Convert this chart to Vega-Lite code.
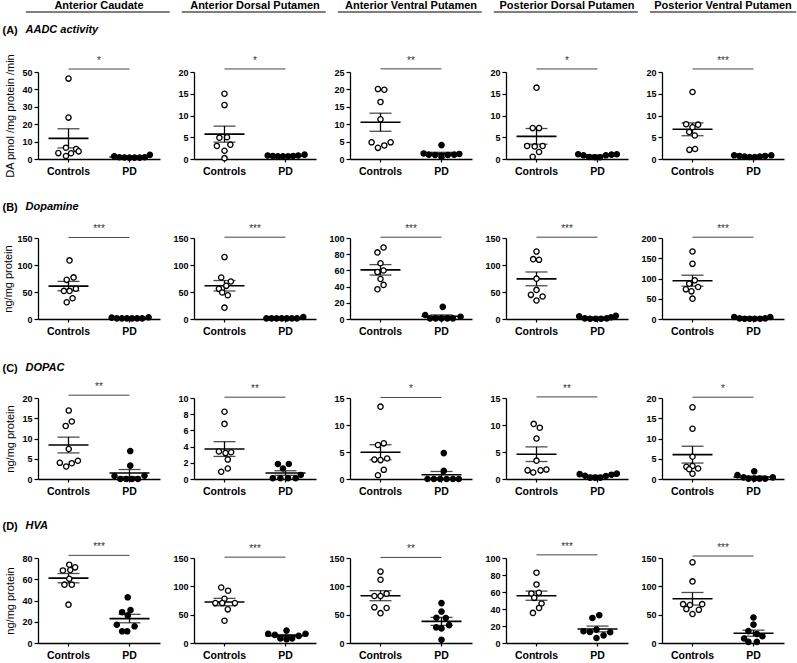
{
"$schema":"https://vega.github.io/schema/vega-lite/v6.json",
"padding":{"left":2,"top":0,"right":2,"bottom":5},
"datasets":{"d":[
{"panel":"A1","kind":"pt","group":"Controls","value":46.2,"dx":0},{"panel":"A1","kind":"pt","group":"Controls","value":23.8,"dx":0},{"panel":"A1","kind":"pt","group":"Controls","value":6.5,"dx":-1},{"panel":"A1","kind":"pt","group":"Controls","value":5.7,"dx":3},{"panel":"A1","kind":"pt","group":"Controls","value":4.4,"dx":4},{"panel":"A1","kind":"pt","group":"Controls","value":3.4,"dx":-4},{"panel":"A1","kind":"pt","group":"Controls","value":3.3,"dx":1},{"panel":"A1","kind":"pt","group":"Controls","value":1.7,"dx":-1},
{"panel":"A1","kind":"pt","group":"PD","value":1.6,"dx":-6},{"panel":"A1","kind":"pt","group":"PD","value":1.0,"dx":-4},{"panel":"A1","kind":"pt","group":"PD","value":0.9,"dx":-2},{"panel":"A1","kind":"pt","group":"PD","value":0.8,"dx":0},{"panel":"A1","kind":"pt","group":"PD","value":0.8,"dx":2},{"panel":"A1","kind":"pt","group":"PD","value":0.8,"dx":4},{"panel":"A1","kind":"pt","group":"PD","value":1.0,"dx":6},{"panel":"A1","kind":"pt","group":"PD","value":2.4,"dx":8},
{"panel":"A2","kind":"pt","group":"Controls","value":15.0,"dx":0},{"panel":"A2","kind":"pt","group":"Controls","value":12.4,"dx":0},{"panel":"A2","kind":"pt","group":"Controls","value":4.9,"dx":-2},{"panel":"A2","kind":"pt","group":"Controls","value":5.0,"dx":1},{"panel":"A2","kind":"pt","group":"Controls","value":3.0,"dx":-3},{"panel":"A2","kind":"pt","group":"Controls","value":3.3,"dx":2.3},{"panel":"A2","kind":"pt","group":"Controls","value":1.9,"dx":0},{"panel":"A2","kind":"pt","group":"Controls","value":0.2,"dx":0},
{"panel":"A2","kind":"pt","group":"PD","value":0.8,"dx":-7},{"panel":"A2","kind":"pt","group":"PD","value":0.7,"dx":-5},{"panel":"A2","kind":"pt","group":"PD","value":0.6,"dx":-3},{"panel":"A2","kind":"pt","group":"PD","value":0.6,"dx":-1},{"panel":"A2","kind":"pt","group":"PD","value":0.6,"dx":1},{"panel":"A2","kind":"pt","group":"PD","value":0.7,"dx":3},{"panel":"A2","kind":"pt","group":"PD","value":0.8,"dx":5},{"panel":"A2","kind":"pt","group":"PD","value":1.0,"dx":7.5},
{"panel":"A3","kind":"pt","group":"Controls","value":20.1,"dx":-1},{"panel":"A3","kind":"pt","group":"Controls","value":19.9,"dx":1.5},{"panel":"A3","kind":"pt","group":"Controls","value":16.4,"dx":0},{"panel":"A3","kind":"pt","group":"Controls","value":11.4,"dx":0},{"panel":"A3","kind":"pt","group":"Controls","value":4.8,"dx":-3.5},{"panel":"A3","kind":"pt","group":"Controls","value":3.2,"dx":-1},{"panel":"A3","kind":"pt","group":"Controls","value":3.9,"dx":1.5},{"panel":"A3","kind":"pt","group":"Controls","value":4.8,"dx":4},
{"panel":"A3","kind":"pt","group":"PD","value":1.6,"dx":-7},{"panel":"A3","kind":"pt","group":"PD","value":1.25,"dx":-5},{"panel":"A3","kind":"pt","group":"PD","value":1.15,"dx":-2.5},{"panel":"A3","kind":"pt","group":"PD","value":0.6,"dx":0},{"panel":"A3","kind":"pt","group":"PD","value":1.15,"dx":2.5},{"panel":"A3","kind":"pt","group":"PD","value":1.25,"dx":5},{"panel":"A3","kind":"pt","group":"PD","value":1.45,"dx":7},{"panel":"A3","kind":"pt","group":"PD","value":4.0,"dx":0},
{"panel":"A4","kind":"pt","group":"Controls","value":16.4,"dx":0},{"panel":"A4","kind":"pt","group":"Controls","value":7.1,"dx":-1.5},{"panel":"A4","kind":"pt","group":"Controls","value":7.1,"dx":1},{"panel":"A4","kind":"pt","group":"Controls","value":3.0,"dx":-3.7},{"panel":"A4","kind":"pt","group":"Controls","value":2.9,"dx":-0.7},{"panel":"A4","kind":"pt","group":"Controls","value":3.0,"dx":2.4},{"panel":"A4","kind":"pt","group":"Controls","value":1.6,"dx":1},{"panel":"A4","kind":"pt","group":"Controls","value":0.5,"dx":-1.5},
{"panel":"A4","kind":"pt","group":"PD","value":1.1,"dx":-7.6},{"panel":"A4","kind":"pt","group":"PD","value":0.85,"dx":-5.5},{"panel":"A4","kind":"pt","group":"PD","value":0.45,"dx":-3.3},{"panel":"A4","kind":"pt","group":"PD","value":0.4,"dx":-1},{"panel":"A4","kind":"pt","group":"PD","value":0.4,"dx":1},{"panel":"A4","kind":"pt","group":"PD","value":0.85,"dx":3.3},{"panel":"A4","kind":"pt","group":"PD","value":1.0,"dx":5.5},{"panel":"A4","kind":"pt","group":"PD","value":1.1,"dx":7.6},
{"panel":"A5","kind":"pt","group":"Controls","value":15.4,"dx":0},{"panel":"A5","kind":"pt","group":"Controls","value":8.0,"dx":-2.5},{"panel":"A5","kind":"pt","group":"Controls","value":7.9,"dx":2.2},{"panel":"A5","kind":"pt","group":"Controls","value":7.3,"dx":0},{"panel":"A5","kind":"pt","group":"Controls","value":6.2,"dx":-1.3},{"panel":"A5","kind":"pt","group":"Controls","value":5.4,"dx":0.9},{"panel":"A5","kind":"pt","group":"Controls","value":2.1,"dx":-1.2},{"panel":"A5","kind":"pt","group":"Controls","value":2.3,"dx":1},
{"panel":"A5","kind":"pt","group":"PD","value":0.85,"dx":-7.6},{"panel":"A5","kind":"pt","group":"PD","value":0.7,"dx":-5.5},{"panel":"A5","kind":"pt","group":"PD","value":0.55,"dx":-3.5},{"panel":"A5","kind":"pt","group":"PD","value":0.45,"dx":-1.5},{"panel":"A5","kind":"pt","group":"PD","value":0.45,"dx":0.5},{"panel":"A5","kind":"pt","group":"PD","value":0.55,"dx":2.5},{"panel":"A5","kind":"pt","group":"PD","value":0.7,"dx":4.6},{"panel":"A5","kind":"pt","group":"PD","value":0.85,"dx":7},
{"panel":"B1","kind":"pt","group":"Controls","value":108.5,"dx":0.4},{"panel":"B1","kind":"pt","group":"Controls","value":72.5,"dx":-0.7},{"panel":"B1","kind":"pt","group":"Controls","value":77,"dx":2},{"panel":"B1","kind":"pt","group":"Controls","value":52,"dx":-1.8},{"panel":"B1","kind":"pt","group":"Controls","value":52,"dx":0.4},{"panel":"B1","kind":"pt","group":"Controls","value":56,"dx":2.9},{"panel":"B1","kind":"pt","group":"Controls","value":38.4,"dx":1.6},{"panel":"B1","kind":"pt","group":"Controls","value":31,"dx":-0.7},
{"panel":"B1","kind":"pt","group":"PD","value":2.5,"dx":-7},{"panel":"B1","kind":"pt","group":"PD","value":1.2,"dx":-5},{"panel":"B1","kind":"pt","group":"PD","value":1.2,"dx":-3},{"panel":"B1","kind":"pt","group":"PD","value":1.2,"dx":-1},{"panel":"B1","kind":"pt","group":"PD","value":1.2,"dx":1},{"panel":"B1","kind":"pt","group":"PD","value":1.2,"dx":3},{"panel":"B1","kind":"pt","group":"PD","value":1.2,"dx":5},{"panel":"B1","kind":"pt","group":"PD","value":3.1,"dx":7.5},
{"panel":"B2","kind":"pt","group":"Controls","value":114.7,"dx":0},{"panel":"B2","kind":"pt","group":"Controls","value":76.9,"dx":-1.3},{"panel":"B2","kind":"pt","group":"Controls","value":69.4,"dx":2.5},{"panel":"B2","kind":"pt","group":"Controls","value":61.4,"dx":0.7},{"panel":"B2","kind":"pt","group":"Controls","value":55.8,"dx":-2.2},{"panel":"B2","kind":"pt","group":"Controls","value":49,"dx":-0.9},{"panel":"B2","kind":"pt","group":"Controls","value":44,"dx":1.3},{"panel":"B2","kind":"pt","group":"Controls","value":21,"dx":0},
{"panel":"B2","kind":"pt","group":"PD","value":1.2,"dx":-7.5},{"panel":"B2","kind":"pt","group":"PD","value":1.2,"dx":-5.5},{"panel":"B2","kind":"pt","group":"PD","value":1.2,"dx":-3.5},{"panel":"B2","kind":"pt","group":"PD","value":1.2,"dx":-1.5},{"panel":"B2","kind":"pt","group":"PD","value":1.2,"dx":0.5},{"panel":"B2","kind":"pt","group":"PD","value":1.2,"dx":2.5},{"panel":"B2","kind":"pt","group":"PD","value":1.2,"dx":4.5},{"panel":"B2","kind":"pt","group":"PD","value":3.7,"dx":7},
{"panel":"B3","kind":"pt","group":"Controls","value":88.3,"dx":1.2},{"panel":"B3","kind":"pt","group":"Controls","value":82.2,"dx":-1.2},{"panel":"B3","kind":"pt","group":"Controls","value":68.8,"dx":0},{"panel":"B3","kind":"pt","group":"Controls","value":57.9,"dx":-1.2},{"panel":"B3","kind":"pt","group":"Controls","value":59.9,"dx":1.2},{"panel":"B3","kind":"pt","group":"Controls","value":49.4,"dx":0},{"panel":"B3","kind":"pt","group":"Controls","value":42.1,"dx":1.2},{"panel":"B3","kind":"pt","group":"Controls","value":36.8,"dx":-1.2},
{"panel":"B3","kind":"pt","group":"PD","value":4.9,"dx":-6.4},{"panel":"B3","kind":"pt","group":"PD","value":0.8,"dx":-4.5},{"panel":"B3","kind":"pt","group":"PD","value":0.8,"dx":-2.3},{"panel":"B3","kind":"pt","group":"PD","value":0.8,"dx":0},{"panel":"B3","kind":"pt","group":"PD","value":15,"dx":0.5},{"panel":"B3","kind":"pt","group":"PD","value":0.8,"dx":2.3},{"panel":"B3","kind":"pt","group":"PD","value":0.8,"dx":4.5},{"panel":"B3","kind":"pt","group":"PD","value":2.8,"dx":7.5},
{"panel":"B4","kind":"pt","group":"Controls","value":124.9,"dx":0},{"panel":"B4","kind":"pt","group":"Controls","value":110.8,"dx":-1.3},{"panel":"B4","kind":"pt","group":"Controls","value":109.6,"dx":1},{"panel":"B4","kind":"pt","group":"Controls","value":74.7,"dx":0},{"panel":"B4","kind":"pt","group":"Controls","value":53.9,"dx":0},{"panel":"B4","kind":"pt","group":"Controls","value":44.7,"dx":-2.2},{"panel":"B4","kind":"pt","group":"Controls","value":41.6,"dx":2.4},{"panel":"B4","kind":"pt","group":"Controls","value":34.3,"dx":0},
{"panel":"B4","kind":"pt","group":"PD","value":4.9,"dx":-7.2},{"panel":"B4","kind":"pt","group":"PD","value":1.2,"dx":-5},{"panel":"B4","kind":"pt","group":"PD","value":0.6,"dx":-2.9},{"panel":"B4","kind":"pt","group":"PD","value":0.6,"dx":-0.7},{"panel":"B4","kind":"pt","group":"PD","value":0.6,"dx":1.4},{"panel":"B4","kind":"pt","group":"PD","value":1.2,"dx":3.6},{"panel":"B4","kind":"pt","group":"PD","value":3.1,"dx":5.3},{"panel":"B4","kind":"pt","group":"PD","value":6.1,"dx":7.2},
{"panel":"B5","kind":"pt","group":"Controls","value":166.7,"dx":0},{"panel":"B5","kind":"pt","group":"Controls","value":136.2,"dx":0},{"panel":"B5","kind":"pt","group":"Controls","value":95.5,"dx":0.9},{"panel":"B5","kind":"pt","group":"Controls","value":87.2,"dx":-1.3},{"panel":"B5","kind":"pt","group":"Controls","value":73.3,"dx":-2.6},{"panel":"B5","kind":"pt","group":"Controls","value":68.3,"dx":-0.4},{"panel":"B5","kind":"pt","group":"Controls","value":79,"dx":2.2},{"panel":"B5","kind":"pt","group":"Controls","value":50.2,"dx":0},
{"panel":"B5","kind":"pt","group":"PD","value":4.9,"dx":-7.6},{"panel":"B5","kind":"pt","group":"PD","value":1.6,"dx":-5.5},{"panel":"B5","kind":"pt","group":"PD","value":0.8,"dx":-3.5},{"panel":"B5","kind":"pt","group":"PD","value":0.8,"dx":-1.5},{"panel":"B5","kind":"pt","group":"PD","value":0.8,"dx":0.5},{"panel":"B5","kind":"pt","group":"PD","value":0.8,"dx":2.6},{"panel":"B5","kind":"pt","group":"PD","value":1.6,"dx":4.6},{"panel":"B5","kind":"pt","group":"PD","value":4.9,"dx":6.6},
{"panel":"C1","kind":"pt","group":"Controls","value":16.9,"dx":0.1},{"panel":"C1","kind":"pt","group":"Controls","value":14.2,"dx":1.3},{"panel":"C1","kind":"pt","group":"Controls","value":13.1,"dx":-1.1},{"panel":"C1","kind":"pt","group":"Controls","value":7.4,"dx":0.1},{"panel":"C1","kind":"pt","group":"Controls","value":4.0,"dx":-3.4},{"panel":"C1","kind":"pt","group":"Controls","value":3.1,"dx":-0.9},{"panel":"C1","kind":"pt","group":"Controls","value":3.9,"dx":1.3},{"panel":"C1","kind":"pt","group":"Controls","value":4.5,"dx":3.7},
{"panel":"C1","kind":"pt","group":"PD","value":6.9,"dx":0.3},{"panel":"C1","kind":"pt","group":"PD","value":3.3,"dx":0.3},{"panel":"C1","kind":"pt","group":"PD","value":0.75,"dx":-5.9},{"panel":"C1","kind":"pt","group":"PD","value":0,"dx":-3.6},{"panel":"C1","kind":"pt","group":"PD","value":0,"dx":-1.3},{"panel":"C1","kind":"pt","group":"PD","value":0,"dx":1},{"panel":"C1","kind":"pt","group":"PD","value":0,"dx":3.3},{"panel":"C1","kind":"pt","group":"PD","value":0.8,"dx":5.9},
{"panel":"C2","kind":"pt","group":"Controls","value":8.3,"dx":0},{"panel":"C2","kind":"pt","group":"Controls","value":6.8,"dx":0},{"panel":"C2","kind":"pt","group":"Controls","value":3.4,"dx":-2.2},{"panel":"C2","kind":"pt","group":"Controls","value":3.2,"dx":0.4},{"panel":"C2","kind":"pt","group":"Controls","value":3.3,"dx":2.6},{"panel":"C2","kind":"pt","group":"Controls","value":2.4,"dx":1.3},{"panel":"C2","kind":"pt","group":"Controls","value":0.9,"dx":-1.3},{"panel":"C2","kind":"pt","group":"Controls","value":1.3,"dx":1.3},
{"panel":"C2","kind":"pt","group":"PD","value":1.85,"dx":-3},{"panel":"C2","kind":"pt","group":"PD","value":1.85,"dx":1.3},{"panel":"C2","kind":"pt","group":"PD","value":1.3,"dx":-1},{"panel":"C2","kind":"pt","group":"PD","value":0.1,"dx":-5},{"panel":"C2","kind":"pt","group":"PD","value":0.1,"dx":-2},{"panel":"C2","kind":"pt","group":"PD","value":0.1,"dx":1},{"panel":"C2","kind":"pt","group":"PD","value":0.1,"dx":4},{"panel":"C2","kind":"pt","group":"PD","value":0.5,"dx":6},
{"panel":"C3","kind":"pt","group":"Controls","value":13.4,"dx":0},{"panel":"C3","kind":"pt","group":"Controls","value":6.3,"dx":-1},{"panel":"C3","kind":"pt","group":"Controls","value":6.6,"dx":1.3},{"panel":"C3","kind":"pt","group":"Controls","value":3.6,"dx":-2.4},{"panel":"C3","kind":"pt","group":"Controls","value":3.5,"dx":0},{"panel":"C3","kind":"pt","group":"Controls","value":3.8,"dx":2.6},{"panel":"C3","kind":"pt","group":"Controls","value":1.7,"dx":1.3},{"panel":"C3","kind":"pt","group":"Controls","value":0.7,"dx":-1},
{"panel":"C3","kind":"pt","group":"PD","value":4.8,"dx":0.9},{"panel":"C3","kind":"pt","group":"PD","value":1.5,"dx":0.9},{"panel":"C3","kind":"pt","group":"PD","value":0,"dx":-5.5},{"panel":"C3","kind":"pt","group":"PD","value":0,"dx":-3},{"panel":"C3","kind":"pt","group":"PD","value":0,"dx":-0.5},{"panel":"C3","kind":"pt","group":"PD","value":0,"dx":2},{"panel":"C3","kind":"pt","group":"PD","value":0,"dx":4.5},{"panel":"C3","kind":"pt","group":"PD","value":0,"dx":6.8},
{"panel":"C4","kind":"pt","group":"Controls","value":10.2,"dx":-1.1},{"panel":"C4","kind":"pt","group":"Controls","value":9.5,"dx":1.3},{"panel":"C4","kind":"pt","group":"Controls","value":7.5,"dx":0},{"panel":"C4","kind":"pt","group":"Controls","value":3.4,"dx":0},{"panel":"C4","kind":"pt","group":"Controls","value":1.6,"dx":-3.5},{"panel":"C4","kind":"pt","group":"Controls","value":1.2,"dx":-1.3},{"panel":"C4","kind":"pt","group":"Controls","value":1.6,"dx":1.6},{"panel":"C4","kind":"pt","group":"Controls","value":1.75,"dx":3.9},
{"panel":"C4","kind":"pt","group":"PD","value":0.9,"dx":-7},{"panel":"C4","kind":"pt","group":"PD","value":0.6,"dx":-4.9},{"panel":"C4","kind":"pt","group":"PD","value":0.25,"dx":-2.9},{"panel":"C4","kind":"pt","group":"PD","value":0.25,"dx":-0.9},{"panel":"C4","kind":"pt","group":"PD","value":0.25,"dx":1.1},{"panel":"C4","kind":"pt","group":"PD","value":0.55,"dx":3.3},{"panel":"C4","kind":"pt","group":"PD","value":0.8,"dx":5.5},{"panel":"C4","kind":"pt","group":"PD","value":1.0,"dx":7.6},
{"panel":"C5","kind":"pt","group":"Controls","value":17.7,"dx":0},{"panel":"C5","kind":"pt","group":"Controls","value":12.4,"dx":0},{"panel":"C5","kind":"pt","group":"Controls","value":5.5,"dx":0},{"panel":"C5","kind":"pt","group":"Controls","value":3.0,"dx":-2.4},{"panel":"C5","kind":"pt","group":"Controls","value":3.2,"dx":0},{"panel":"C5","kind":"pt","group":"Controls","value":2.6,"dx":2.2},{"panel":"C5","kind":"pt","group":"Controls","value":2.4,"dx":-1.3},{"panel":"C5","kind":"pt","group":"Controls","value":1.3,"dx":0},
{"panel":"C5","kind":"pt","group":"PD","value":0.95,"dx":-6.3},{"panel":"C5","kind":"pt","group":"PD","value":0.4,"dx":-3.9},{"panel":"C5","kind":"pt","group":"PD","value":0.1,"dx":-2},{"panel":"C5","kind":"pt","group":"PD","value":1.9,"dx":0.3},{"panel":"C5","kind":"pt","group":"PD","value":0.1,"dx":0.3},{"panel":"C5","kind":"pt","group":"PD","value":0.1,"dx":2.4},{"panel":"C5","kind":"pt","group":"PD","value":0.1,"dx":4.6},{"panel":"C5","kind":"pt","group":"PD","value":0.4,"dx":7.6},
{"panel":"D1","kind":"pt","group":"Controls","value":73.7,"dx":0.3},{"panel":"D1","kind":"pt","group":"Controls","value":68.3,"dx":-2.2},{"panel":"D1","kind":"pt","group":"Controls","value":68.7,"dx":0.7},{"panel":"D1","kind":"pt","group":"Controls","value":71.2,"dx":2.6},{"panel":"D1","kind":"pt","group":"Controls","value":60.5,"dx":0.3},{"panel":"D1","kind":"pt","group":"Controls","value":54.9,"dx":-1.6},{"panel":"D1","kind":"pt","group":"Controls","value":54.9,"dx":1.3},{"panel":"D1","kind":"pt","group":"Controls","value":36.1,"dx":0},
{"panel":"D1","kind":"pt","group":"PD","value":43,"dx":-0.7},{"panel":"D1","kind":"pt","group":"PD","value":29,"dx":-2.9},{"panel":"D1","kind":"pt","group":"PD","value":31,"dx":0.4},{"panel":"D1","kind":"pt","group":"PD","value":26,"dx":-0.7},{"panel":"D1","kind":"pt","group":"PD","value":17.2,"dx":-5},{"panel":"D1","kind":"pt","group":"PD","value":15.7,"dx":2},{"panel":"D1","kind":"pt","group":"PD","value":11,"dx":-2.9},{"panel":"D1","kind":"pt","group":"PD","value":11,"dx":-0.9},
{"panel":"D2","kind":"pt","group":"Controls","value":98,"dx":-1.3},{"panel":"D2","kind":"pt","group":"Controls","value":92.3,"dx":1.4},{"panel":"D2","kind":"pt","group":"Controls","value":77.9,"dx":0},{"panel":"D2","kind":"pt","group":"Controls","value":70.4,"dx":-3.6},{"panel":"D2","kind":"pt","group":"Controls","value":70.4,"dx":-0.9},{"panel":"D2","kind":"pt","group":"Controls","value":70.4,"dx":4.1},{"panel":"D2","kind":"pt","group":"Controls","value":59.4,"dx":1.3},{"panel":"D2","kind":"pt","group":"Controls","value":39.2,"dx":0},
{"panel":"D2","kind":"pt","group":"PD","value":16.2,"dx":-6.8},{"panel":"D2","kind":"pt","group":"PD","value":14.4,"dx":-4.2},{"panel":"D2","kind":"pt","group":"PD","value":21.9,"dx":0.4},{"panel":"D2","kind":"pt","group":"PD","value":8.0,"dx":-2},{"panel":"D2","kind":"pt","group":"PD","value":6.5,"dx":0.4},{"panel":"D2","kind":"pt","group":"PD","value":8.0,"dx":2.6},{"panel":"D2","kind":"pt","group":"PD","value":12.5,"dx":5.2},{"panel":"D2","kind":"pt","group":"PD","value":16.2,"dx":7.9},
{"panel":"D3","kind":"pt","group":"Controls","value":126,"dx":0},{"panel":"D3","kind":"pt","group":"Controls","value":111.6,"dx":0},{"panel":"D3","kind":"pt","group":"Controls","value":83,"dx":-2.4},{"panel":"D3","kind":"pt","group":"Controls","value":83,"dx":0},{"panel":"D3","kind":"pt","group":"Controls","value":87,"dx":2.4},{"panel":"D3","kind":"pt","group":"Controls","value":63,"dx":-2.4},{"panel":"D3","kind":"pt","group":"Controls","value":61.8,"dx":2.4},{"panel":"D3","kind":"pt","group":"Controls","value":52.7,"dx":0},
{"panel":"D3","kind":"pt","group":"PD","value":70.4,"dx":0},{"panel":"D3","kind":"pt","group":"PD","value":55.5,"dx":0},{"panel":"D3","kind":"pt","group":"PD","value":44.6,"dx":-2},{"panel":"D3","kind":"pt","group":"PD","value":44.1,"dx":1.7},{"panel":"D3","kind":"pt","group":"PD","value":27.5,"dx":-2.1},{"panel":"D3","kind":"pt","group":"PD","value":25.8,"dx":0},{"panel":"D3","kind":"pt","group":"PD","value":31.5,"dx":3},{"panel":"D3","kind":"pt","group":"PD","value":5.7,"dx":0},
{"panel":"D4","kind":"pt","group":"Controls","value":82.7,"dx":0},{"panel":"D4","kind":"pt","group":"Controls","value":68.9,"dx":0},{"panel":"D4","kind":"pt","group":"Controls","value":58.3,"dx":-2},{"panel":"D4","kind":"pt","group":"Controls","value":59,"dx":0.9},{"panel":"D4","kind":"pt","group":"Controls","value":53.1,"dx":-0.9},{"panel":"D4","kind":"pt","group":"Controls","value":46.5,"dx":2},{"panel":"D4","kind":"pt","group":"Controls","value":41.3,"dx":1},{"panel":"D4","kind":"pt","group":"Controls","value":35.4,"dx":-1.4},
{"panel":"D4","kind":"pt","group":"PD","value":29.5,"dx":-2},{"panel":"D4","kind":"pt","group":"PD","value":32.7,"dx":0.7},{"panel":"D4","kind":"pt","group":"PD","value":13.8,"dx":-5.5},{"panel":"D4","kind":"pt","group":"PD","value":13,"dx":-3},{"panel":"D4","kind":"pt","group":"PD","value":15.7,"dx":-0.4},{"panel":"D4","kind":"pt","group":"PD","value":9,"dx":2.4},{"panel":"D4","kind":"pt","group":"PD","value":12.6,"dx":5},{"panel":"D4","kind":"pt","group":"PD","value":5.9,"dx":-0.4},
{"panel":"D5","kind":"pt","group":"Controls","value":142.4,"dx":0},{"panel":"D5","kind":"pt","group":"Controls","value":108.7,"dx":0},{"panel":"D5","kind":"pt","group":"Controls","value":68.6,"dx":-3.7},{"panel":"D5","kind":"pt","group":"Controls","value":67,"dx":-1},{"panel":"D5","kind":"pt","group":"Controls","value":68.6,"dx":3.8},{"panel":"D5","kind":"pt","group":"Controls","value":59.9,"dx":-2.4},{"panel":"D5","kind":"pt","group":"Controls","value":58.5,"dx":2.5},{"panel":"D5","kind":"pt","group":"Controls","value":51.2,"dx":0},
{"panel":"D5","kind":"pt","group":"PD","value":45,"dx":0},{"panel":"D5","kind":"pt","group":"PD","value":32.5,"dx":0},{"panel":"D5","kind":"pt","group":"PD","value":21,"dx":-2},{"panel":"D5","kind":"pt","group":"PD","value":16,"dx":1.3},{"panel":"D5","kind":"pt","group":"PD","value":8,"dx":-3.7},{"panel":"D5","kind":"pt","group":"PD","value":12,"dx":3.5},{"panel":"D5","kind":"pt","group":"PD","value":2,"dx":-2},{"panel":"D5","kind":"pt","group":"PD","value":2,"dx":1.3},
{"panel":"A1","kind":"sig","value":51.7,"stars":"*"},{"panel":"A2","kind":"sig","value":20.7,"stars":"*"},{"panel":"A3","kind":"sig","value":25.9,"stars":"**"},{"panel":"A4","kind":"sig","value":20.7,"stars":"*"},{"panel":"A5","kind":"sig","value":20.7,"stars":"***"},
{"panel":"B1","kind":"sig","value":151,"stars":"***"},{"panel":"B2","kind":"sig","value":151.5,"stars":"***"},{"panel":"B3","kind":"sig","value":101,"stars":"***"},{"panel":"B4","kind":"sig","value":151.5,"stars":"***"},{"panel":"B5","kind":"sig","value":202,"stars":"***"},
{"panel":"C1","kind":"sig","value":20.7,"stars":"**"},{"panel":"C2","kind":"sig","value":10.1,"stars":"**"},{"panel":"C3","kind":"sig","value":15.1,"stars":"*"},{"panel":"C4","kind":"sig","value":15.2,"stars":"**"},{"panel":"C5","kind":"sig","value":20.2,"stars":"*"},
{"panel":"D1","kind":"sig","value":82.5,"stars":"***"},{"panel":"D2","kind":"sig","value":151.5,"stars":"***"},{"panel":"D3","kind":"sig","value":151,"stars":"**"},{"panel":"D4","kind":"sig","value":103.7,"stars":"***"},{"panel":"D5","kind":"sig","value":153.5,"stars":"***"}
]},
"config":{
"font":"Liberation Sans",
"view":{"stroke":null},
"axis":{"grid":false,"domainColor":"black","domainWidth":1.3,"tickColor":"black","tickWidth":1.2,"labelColor":"black","labelFontWeight":"bold","titleColor":"black"},
"axisX":{"labelFontSize":10.5,"tickSize":3,"labelPadding":4,"labelAngle":0},
"axisY":{"labelFontSize":9,"tickSize":4,"labelPadding":2,"titleFontSize":11,"titleFontWeight":"normal","titlePadding":6},
"title":{"fontSize":11,"fontWeight":"bold","color":"black"},
"point":{"shape":"circle","filled":true,"stroke":"black","strokeWidth":1.3,"size":28,"opacity":1},
"tick":{"color":"black"},
"rule":{"color":"#444"}
},
"bounds":"flush",
"spacing":227,
"resolve":{"scale":{"xOffset":"independent","fill":"independent"}},
"vconcat":[
{"vconcat":[
{"hconcat":[
{"width":122,"height":1,"data":{"values":[{}]},"title":{"text":"Anterior Caudate","anchor":"middle","offset":0},"mark":{"type":"rule","color":"#555","strokeWidth":1.4},"encoding":{"x":{"datum":-0.1,"type":"quantitative","scale":{"domain":[0,1]},"axis":null},"x2":{"datum":1.08},"y":{"datum":0,"type":"quantitative","scale":{"domain":[0,1]},"axis":null}}},
{"width":122,"height":1,"data":{"values":[{}]},"title":{"text":"Anterior Dorsal Putamen","anchor":"middle","offset":0},"mark":{"type":"rule","color":"#555","strokeWidth":1.4},"encoding":{"x":{"datum":-0.1,"type":"quantitative","scale":{"domain":[0,1]},"axis":null},"x2":{"datum":1.08},"y":{"datum":0,"type":"quantitative","scale":{"domain":[0,1]},"axis":null}}},
{"width":122,"height":1,"data":{"values":[{}]},"title":{"text":"Anterior Ventral Putamen","anchor":"middle","offset":0},"mark":{"type":"rule","color":"#555","strokeWidth":1.4},"encoding":{"x":{"datum":-0.1,"type":"quantitative","scale":{"domain":[0,1]},"axis":null},"x2":{"datum":1.08},"y":{"datum":0,"type":"quantitative","scale":{"domain":[0,1]},"axis":null}}},
{"width":122,"height":1,"data":{"values":[{}]},"title":{"text":"Posterior Dorsal Putamen","anchor":"middle","offset":0},"mark":{"type":"rule","color":"#555","strokeWidth":1.4},"encoding":{"x":{"datum":-0.1,"type":"quantitative","scale":{"domain":[0,1]},"axis":null},"x2":{"datum":1.08},"y":{"datum":0,"type":"quantitative","scale":{"domain":[0,1]},"axis":null}}},
{"width":122,"height":1,"data":{"values":[{}]},"title":{"text":"Posterior Ventral Putamen","anchor":"middle","offset":0},"mark":{"type":"rule","color":"#555","strokeWidth":1.4},"encoding":{"x":{"datum":-0.1,"type":"quantitative","scale":{"domain":[0,1]},"axis":null},"x2":{"datum":1.1},"y":{"datum":0,"type":"quantitative","scale":{"domain":[0,1]},"axis":null}}}
],"spacing":34,"bounds":"flush"},
{"title":{"text":"(A)","anchor":"start","frame":"group","dx":-35.5,"dy":12,"offset":0},"hconcat":[
{"width":122,"height":87,"title":{"text":"AADC activity","fontStyle":"italic","anchor":"start","frame":"group","dx":-12.5,"offset":18},"data":{"name":"d"},"transform":[{"filter":"datum.panel=='A1'"}],"encoding":{"x":{"field":"group","type":"nominal","scale":{"type":"band","domain":["Controls","PD"],"paddingInner":0,"paddingOuter":0},"axis":{"title":null}},"y":{"field":"value","type":"quantitative","scale":{"domain":[0,50],"nice":false},"axis":{"values":[0,10,20,30,40,50],"title":"DA pmol /mg protein /min"}}},
"layer":[{"transform":[{"filter":"datum.kind=='pt'"}],"mark":{"type":"errorbar","extent":"stderr","ticks":{"size":22},"thickness":1.3,"color":"black"}},{"transform":[{"filter":"datum.kind=='pt'"}],"mark":{"type":"tick","size":40,"thickness":1.6},"encoding":{"y":{"aggregate":"mean","field":"value","type":"quantitative"}}},{"transform":[{"filter":"datum.kind=='pt'"}],"mark":"point","encoding":{"xOffset":{"field":"dx","type":"quantitative","scale":{"domain":[-12,12]}},"fill":{"field":"group","type":"nominal","scale":{"domain":["Controls","PD"],"range":["white","black"]},"legend":null}}},{"transform":[{"filter":"datum.kind=='sig'"}],"mark":"rule","encoding":{"x":{"datum":"Controls"},"x2":{"datum":"PD"}}},{"transform":[{"filter":"datum.kind=='sig'"}],"mark":{"type":"text","fontSize":10,"color":"#333","baseline":"bottom","dy":-3},"encoding":{"x":{"datum":"PD","bandPosition":0},"text":{"field":"stars"}}}]},
{"width":122,"height":87,"data":{"name":"d"},"transform":[{"filter":"datum.panel=='A2'"}],"encoding":{"x":{"field":"group","type":"nominal","scale":{"type":"band","domain":["Controls","PD"],"paddingInner":0,"paddingOuter":0},"axis":{"title":null}},"y":{"field":"value","type":"quantitative","scale":{"domain":[0,20],"nice":false},"axis":{"values":[0,5,10,15,20],"title":null}}},
"layer":[{"transform":[{"filter":"datum.kind=='pt'"}],"mark":{"type":"errorbar","extent":"stderr","ticks":{"size":22},"thickness":1.3,"color":"black"}},{"transform":[{"filter":"datum.kind=='pt'"}],"mark":{"type":"tick","size":40,"thickness":1.6},"encoding":{"y":{"aggregate":"mean","field":"value","type":"quantitative"}}},{"transform":[{"filter":"datum.kind=='pt'"}],"mark":"point","encoding":{"xOffset":{"field":"dx","type":"quantitative","scale":{"domain":[-12,12]}},"fill":{"field":"group","type":"nominal","scale":{"domain":["Controls","PD"],"range":["white","black"]},"legend":null}}},{"transform":[{"filter":"datum.kind=='sig'"}],"mark":"rule","encoding":{"x":{"datum":"Controls"},"x2":{"datum":"PD"}}},{"transform":[{"filter":"datum.kind=='sig'"}],"mark":{"type":"text","fontSize":10,"color":"#333","baseline":"bottom","dy":-3},"encoding":{"x":{"datum":"PD","bandPosition":0},"text":{"field":"stars"}}}]},
{"width":122,"height":87,"data":{"name":"d"},"transform":[{"filter":"datum.panel=='A3'"}],"encoding":{"x":{"field":"group","type":"nominal","scale":{"type":"band","domain":["Controls","PD"],"paddingInner":0,"paddingOuter":0},"axis":{"title":null}},"y":{"field":"value","type":"quantitative","scale":{"domain":[0,25],"nice":false},"axis":{"values":[0,5,10,15,20,25],"title":null}}},
"layer":[{"transform":[{"filter":"datum.kind=='pt'"}],"mark":{"type":"errorbar","extent":"stderr","ticks":{"size":22},"thickness":1.3,"color":"black"}},{"transform":[{"filter":"datum.kind=='pt'"}],"mark":{"type":"tick","size":40,"thickness":1.6},"encoding":{"y":{"aggregate":"mean","field":"value","type":"quantitative"}}},{"transform":[{"filter":"datum.kind=='pt'"}],"mark":"point","encoding":{"xOffset":{"field":"dx","type":"quantitative","scale":{"domain":[-12,12]}},"fill":{"field":"group","type":"nominal","scale":{"domain":["Controls","PD"],"range":["white","black"]},"legend":null}}},{"transform":[{"filter":"datum.kind=='sig'"}],"mark":"rule","encoding":{"x":{"datum":"Controls"},"x2":{"datum":"PD"}}},{"transform":[{"filter":"datum.kind=='sig'"}],"mark":{"type":"text","fontSize":10,"color":"#333","baseline":"bottom","dy":-3},"encoding":{"x":{"datum":"PD","bandPosition":0},"text":{"field":"stars"}}}]},
{"width":122,"height":87,"data":{"name":"d"},"transform":[{"filter":"datum.panel=='A4'"}],"encoding":{"x":{"field":"group","type":"nominal","scale":{"type":"band","domain":["Controls","PD"],"paddingInner":0,"paddingOuter":0},"axis":{"title":null}},"y":{"field":"value","type":"quantitative","scale":{"domain":[0,20],"nice":false},"axis":{"values":[0,5,10,15,20],"title":null}}},
"layer":[{"transform":[{"filter":"datum.kind=='pt'"}],"mark":{"type":"errorbar","extent":"stderr","ticks":{"size":22},"thickness":1.3,"color":"black"}},{"transform":[{"filter":"datum.kind=='pt'"}],"mark":{"type":"tick","size":40,"thickness":1.6},"encoding":{"y":{"aggregate":"mean","field":"value","type":"quantitative"}}},{"transform":[{"filter":"datum.kind=='pt'"}],"mark":"point","encoding":{"xOffset":{"field":"dx","type":"quantitative","scale":{"domain":[-12,12]}},"fill":{"field":"group","type":"nominal","scale":{"domain":["Controls","PD"],"range":["white","black"]},"legend":null}}},{"transform":[{"filter":"datum.kind=='sig'"}],"mark":"rule","encoding":{"x":{"datum":"Controls"},"x2":{"datum":"PD"}}},{"transform":[{"filter":"datum.kind=='sig'"}],"mark":{"type":"text","fontSize":10,"color":"#333","baseline":"bottom","dy":-3},"encoding":{"x":{"datum":"PD","bandPosition":0},"text":{"field":"stars"}}}]},
{"width":122,"height":87,"data":{"name":"d"},"transform":[{"filter":"datum.panel=='A5'"}],"encoding":{"x":{"field":"group","type":"nominal","scale":{"type":"band","domain":["Controls","PD"],"paddingInner":0,"paddingOuter":0},"axis":{"title":null}},"y":{"field":"value","type":"quantitative","scale":{"domain":[0,20],"nice":false},"axis":{"values":[0,5,10,15,20],"title":null}}},
"layer":[{"transform":[{"filter":"datum.kind=='pt'"}],"mark":{"type":"errorbar","extent":"stderr","ticks":{"size":22},"thickness":1.3,"color":"black"}},{"transform":[{"filter":"datum.kind=='pt'"}],"mark":{"type":"tick","size":40,"thickness":1.6},"encoding":{"y":{"aggregate":"mean","field":"value","type":"quantitative"}}},{"transform":[{"filter":"datum.kind=='pt'"}],"mark":"point","encoding":{"xOffset":{"field":"dx","type":"quantitative","scale":{"domain":[-12,12]}},"fill":{"field":"group","type":"nominal","scale":{"domain":["Controls","PD"],"range":["white","black"]},"legend":null}}},{"transform":[{"filter":"datum.kind=='sig'"}],"mark":"rule","encoding":{"x":{"datum":"Controls"},"x2":{"datum":"PD"}}},{"transform":[{"filter":"datum.kind=='sig'"}],"mark":{"type":"text","fontSize":10,"color":"#333","baseline":"bottom","dy":-3},"encoding":{"x":{"datum":"PD","bandPosition":0},"text":{"field":"stars"}}}]}
],"spacing":34,"bounds":"flush","resolve":{"scale":{"xOffset":"independent","fill":"independent"}}}
],"spacing":61,"bounds":"flush","resolve":{"scale":{"xOffset":"independent","fill":"independent"}}},
{"vconcat":[
{"title":{"text":"(B)","anchor":"start","frame":"group","dx":-35.5,"dy":12,"offset":0},"hconcat":[
{"width":122,"height":81,"title":{"text":"Dopamine","fontStyle":"italic","anchor":"start","frame":"group","dx":-12.5,"offset":12},"data":{"name":"d"},"transform":[{"filter":"datum.panel=='B1'"}],"encoding":{"x":{"field":"group","type":"nominal","scale":{"type":"band","domain":["Controls","PD"],"paddingInner":0,"paddingOuter":0},"axis":{"title":null}},"y":{"field":"value","type":"quantitative","scale":{"domain":[0,150],"nice":false},"axis":{"values":[0,50,100,150],"title":"ng/mg protein","titlePadding":3}}},
"layer":[{"transform":[{"filter":"datum.kind=='pt'"}],"mark":{"type":"errorbar","extent":"stderr","ticks":{"size":22},"thickness":1.3,"color":"black"}},{"transform":[{"filter":"datum.kind=='pt'"}],"mark":{"type":"tick","size":40,"thickness":1.6},"encoding":{"y":{"aggregate":"mean","field":"value","type":"quantitative"}}},{"transform":[{"filter":"datum.kind=='pt'"}],"mark":"point","encoding":{"xOffset":{"field":"dx","type":"quantitative","scale":{"domain":[-12,12]}},"fill":{"field":"group","type":"nominal","scale":{"domain":["Controls","PD"],"range":["white","black"]},"legend":null}}},{"transform":[{"filter":"datum.kind=='sig'"}],"mark":"rule","encoding":{"x":{"datum":"Controls"},"x2":{"datum":"PD"}}},{"transform":[{"filter":"datum.kind=='sig'"}],"mark":{"type":"text","fontSize":10,"color":"#333","baseline":"bottom","dy":-3},"encoding":{"x":{"datum":"PD","bandPosition":0},"text":{"field":"stars"}}}]},
{"width":122,"height":81,"data":{"name":"d"},"transform":[{"filter":"datum.panel=='B2'"}],"encoding":{"x":{"field":"group","type":"nominal","scale":{"type":"band","domain":["Controls","PD"],"paddingInner":0,"paddingOuter":0},"axis":{"title":null}},"y":{"field":"value","type":"quantitative","scale":{"domain":[0,150],"nice":false},"axis":{"values":[0,50,100,150],"title":null}}},
"layer":[{"transform":[{"filter":"datum.kind=='pt'"}],"mark":{"type":"errorbar","extent":"stderr","ticks":{"size":22},"thickness":1.3,"color":"black"}},{"transform":[{"filter":"datum.kind=='pt'"}],"mark":{"type":"tick","size":40,"thickness":1.6},"encoding":{"y":{"aggregate":"mean","field":"value","type":"quantitative"}}},{"transform":[{"filter":"datum.kind=='pt'"}],"mark":"point","encoding":{"xOffset":{"field":"dx","type":"quantitative","scale":{"domain":[-12,12]}},"fill":{"field":"group","type":"nominal","scale":{"domain":["Controls","PD"],"range":["white","black"]},"legend":null}}},{"transform":[{"filter":"datum.kind=='sig'"}],"mark":"rule","encoding":{"x":{"datum":"Controls"},"x2":{"datum":"PD"}}},{"transform":[{"filter":"datum.kind=='sig'"}],"mark":{"type":"text","fontSize":10,"color":"#333","baseline":"bottom","dy":-3},"encoding":{"x":{"datum":"PD","bandPosition":0},"text":{"field":"stars"}}}]},
{"width":122,"height":81,"data":{"name":"d"},"transform":[{"filter":"datum.panel=='B3'"}],"encoding":{"x":{"field":"group","type":"nominal","scale":{"type":"band","domain":["Controls","PD"],"paddingInner":0,"paddingOuter":0},"axis":{"title":null}},"y":{"field":"value","type":"quantitative","scale":{"domain":[0,100],"nice":false},"axis":{"values":[0,20,40,60,80,100],"title":null}}},
"layer":[{"transform":[{"filter":"datum.kind=='pt'"}],"mark":{"type":"errorbar","extent":"stderr","ticks":{"size":22},"thickness":1.3,"color":"black"}},{"transform":[{"filter":"datum.kind=='pt'"}],"mark":{"type":"tick","size":40,"thickness":1.6},"encoding":{"y":{"aggregate":"mean","field":"value","type":"quantitative"}}},{"transform":[{"filter":"datum.kind=='pt'"}],"mark":"point","encoding":{"xOffset":{"field":"dx","type":"quantitative","scale":{"domain":[-12,12]}},"fill":{"field":"group","type":"nominal","scale":{"domain":["Controls","PD"],"range":["white","black"]},"legend":null}}},{"transform":[{"filter":"datum.kind=='sig'"}],"mark":"rule","encoding":{"x":{"datum":"Controls"},"x2":{"datum":"PD"}}},{"transform":[{"filter":"datum.kind=='sig'"}],"mark":{"type":"text","fontSize":10,"color":"#333","baseline":"bottom","dy":-3},"encoding":{"x":{"datum":"PD","bandPosition":0},"text":{"field":"stars"}}}]},
{"width":122,"height":81,"data":{"name":"d"},"transform":[{"filter":"datum.panel=='B4'"}],"encoding":{"x":{"field":"group","type":"nominal","scale":{"type":"band","domain":["Controls","PD"],"paddingInner":0,"paddingOuter":0},"axis":{"title":null}},"y":{"field":"value","type":"quantitative","scale":{"domain":[0,150],"nice":false},"axis":{"values":[0,50,100,150],"title":null}}},
"layer":[{"transform":[{"filter":"datum.kind=='pt'"}],"mark":{"type":"errorbar","extent":"stderr","ticks":{"size":22},"thickness":1.3,"color":"black"}},{"transform":[{"filter":"datum.kind=='pt'"}],"mark":{"type":"tick","size":40,"thickness":1.6},"encoding":{"y":{"aggregate":"mean","field":"value","type":"quantitative"}}},{"transform":[{"filter":"datum.kind=='pt'"}],"mark":"point","encoding":{"xOffset":{"field":"dx","type":"quantitative","scale":{"domain":[-12,12]}},"fill":{"field":"group","type":"nominal","scale":{"domain":["Controls","PD"],"range":["white","black"]},"legend":null}}},{"transform":[{"filter":"datum.kind=='sig'"}],"mark":"rule","encoding":{"x":{"datum":"Controls"},"x2":{"datum":"PD"}}},{"transform":[{"filter":"datum.kind=='sig'"}],"mark":{"type":"text","fontSize":10,"color":"#333","baseline":"bottom","dy":-3},"encoding":{"x":{"datum":"PD","bandPosition":0},"text":{"field":"stars"}}}]},
{"width":122,"height":81,"data":{"name":"d"},"transform":[{"filter":"datum.panel=='B5'"}],"encoding":{"x":{"field":"group","type":"nominal","scale":{"type":"band","domain":["Controls","PD"],"paddingInner":0,"paddingOuter":0},"axis":{"title":null}},"y":{"field":"value","type":"quantitative","scale":{"domain":[0,200],"nice":false},"axis":{"values":[0,50,100,150,200],"title":null}}},
"layer":[{"transform":[{"filter":"datum.kind=='pt'"}],"mark":{"type":"errorbar","extent":"stderr","ticks":{"size":22},"thickness":1.3,"color":"black"}},{"transform":[{"filter":"datum.kind=='pt'"}],"mark":{"type":"tick","size":40,"thickness":1.6},"encoding":{"y":{"aggregate":"mean","field":"value","type":"quantitative"}}},{"transform":[{"filter":"datum.kind=='pt'"}],"mark":"point","encoding":{"xOffset":{"field":"dx","type":"quantitative","scale":{"domain":[-12,12]}},"fill":{"field":"group","type":"nominal","scale":{"domain":["Controls","PD"],"range":["white","black"]},"legend":null}}},{"transform":[{"filter":"datum.kind=='sig'"}],"mark":"rule","encoding":{"x":{"datum":"Controls"},"x2":{"datum":"PD"}}},{"transform":[{"filter":"datum.kind=='sig'"}],"mark":{"type":"text","fontSize":10,"color":"#333","baseline":"bottom","dy":-3},"encoding":{"x":{"datum":"PD","bandPosition":0},"text":{"field":"stars"}}}]}
],"spacing":34,"bounds":"flush","resolve":{"scale":{"xOffset":"independent","fill":"independent"}}},
{"title":{"text":"(C)","anchor":"start","frame":"group","dx":-35.5,"dy":12,"offset":0},"hconcat":[
{"width":122,"height":81,"title":{"text":"DOPAC","fontStyle":"italic","anchor":"start","frame":"group","dx":-12.5,"offset":9},"data":{"name":"d"},"transform":[{"filter":"datum.panel=='C1'"}],"encoding":{"x":{"field":"group","type":"nominal","scale":{"type":"band","domain":["Controls","PD"],"paddingInner":0,"paddingOuter":0},"axis":{"title":null}},"y":{"field":"value","type":"quantitative","scale":{"domain":[0,20],"nice":false},"axis":{"values":[0,5,10,15,20],"title":"ng/mg protein"}}},
"layer":[{"transform":[{"filter":"datum.kind=='pt'"}],"mark":{"type":"errorbar","extent":"stderr","ticks":{"size":22},"thickness":1.3,"color":"black"}},{"transform":[{"filter":"datum.kind=='pt'"}],"mark":{"type":"tick","size":40,"thickness":1.6},"encoding":{"y":{"aggregate":"mean","field":"value","type":"quantitative"}}},{"transform":[{"filter":"datum.kind=='pt'"}],"mark":"point","encoding":{"xOffset":{"field":"dx","type":"quantitative","scale":{"domain":[-12,12]}},"fill":{"field":"group","type":"nominal","scale":{"domain":["Controls","PD"],"range":["white","black"]},"legend":null}}},{"transform":[{"filter":"datum.kind=='sig'"}],"mark":"rule","encoding":{"x":{"datum":"Controls"},"x2":{"datum":"PD"}}},{"transform":[{"filter":"datum.kind=='sig'"}],"mark":{"type":"text","fontSize":10,"color":"#333","baseline":"bottom","dy":-3},"encoding":{"x":{"datum":"PD","bandPosition":0},"text":{"field":"stars"}}}]},
{"width":122,"height":81,"data":{"name":"d"},"transform":[{"filter":"datum.panel=='C2'"}],"encoding":{"x":{"field":"group","type":"nominal","scale":{"type":"band","domain":["Controls","PD"],"paddingInner":0,"paddingOuter":0},"axis":{"title":null}},"y":{"field":"value","type":"quantitative","scale":{"domain":[0,10],"nice":false},"axis":{"values":[0,2,4,6,8,10],"title":null}}},
"layer":[{"transform":[{"filter":"datum.kind=='pt'"}],"mark":{"type":"errorbar","extent":"stderr","ticks":{"size":22},"thickness":1.3,"color":"black"}},{"transform":[{"filter":"datum.kind=='pt'"}],"mark":{"type":"tick","size":40,"thickness":1.6},"encoding":{"y":{"aggregate":"mean","field":"value","type":"quantitative"}}},{"transform":[{"filter":"datum.kind=='pt'"}],"mark":"point","encoding":{"xOffset":{"field":"dx","type":"quantitative","scale":{"domain":[-12,12]}},"fill":{"field":"group","type":"nominal","scale":{"domain":["Controls","PD"],"range":["white","black"]},"legend":null}}},{"transform":[{"filter":"datum.kind=='sig'"}],"mark":"rule","encoding":{"x":{"datum":"Controls"},"x2":{"datum":"PD"}}},{"transform":[{"filter":"datum.kind=='sig'"}],"mark":{"type":"text","fontSize":10,"color":"#333","baseline":"bottom","dy":-3},"encoding":{"x":{"datum":"PD","bandPosition":0},"text":{"field":"stars"}}}]},
{"width":122,"height":81,"data":{"name":"d"},"transform":[{"filter":"datum.panel=='C3'"}],"encoding":{"x":{"field":"group","type":"nominal","scale":{"type":"band","domain":["Controls","PD"],"paddingInner":0,"paddingOuter":0},"axis":{"title":null}},"y":{"field":"value","type":"quantitative","scale":{"domain":[0,15],"nice":false},"axis":{"values":[0,5,10,15],"title":null}}},
"layer":[{"transform":[{"filter":"datum.kind=='pt'"}],"mark":{"type":"errorbar","extent":"stderr","ticks":{"size":22},"thickness":1.3,"color":"black"}},{"transform":[{"filter":"datum.kind=='pt'"}],"mark":{"type":"tick","size":40,"thickness":1.6},"encoding":{"y":{"aggregate":"mean","field":"value","type":"quantitative"}}},{"transform":[{"filter":"datum.kind=='pt'"}],"mark":"point","encoding":{"xOffset":{"field":"dx","type":"quantitative","scale":{"domain":[-12,12]}},"fill":{"field":"group","type":"nominal","scale":{"domain":["Controls","PD"],"range":["white","black"]},"legend":null}}},{"transform":[{"filter":"datum.kind=='sig'"}],"mark":"rule","encoding":{"x":{"datum":"Controls"},"x2":{"datum":"PD"}}},{"transform":[{"filter":"datum.kind=='sig'"}],"mark":{"type":"text","fontSize":10,"color":"#333","baseline":"bottom","dy":-3},"encoding":{"x":{"datum":"PD","bandPosition":0},"text":{"field":"stars"}}}]},
{"width":122,"height":81,"data":{"name":"d"},"transform":[{"filter":"datum.panel=='C4'"}],"encoding":{"x":{"field":"group","type":"nominal","scale":{"type":"band","domain":["Controls","PD"],"paddingInner":0,"paddingOuter":0},"axis":{"title":null}},"y":{"field":"value","type":"quantitative","scale":{"domain":[0,15],"nice":false},"axis":{"values":[0,5,10,15],"title":null}}},
"layer":[{"transform":[{"filter":"datum.kind=='pt'"}],"mark":{"type":"errorbar","extent":"stderr","ticks":{"size":22},"thickness":1.3,"color":"black"}},{"transform":[{"filter":"datum.kind=='pt'"}],"mark":{"type":"tick","size":40,"thickness":1.6},"encoding":{"y":{"aggregate":"mean","field":"value","type":"quantitative"}}},{"transform":[{"filter":"datum.kind=='pt'"}],"mark":"point","encoding":{"xOffset":{"field":"dx","type":"quantitative","scale":{"domain":[-12,12]}},"fill":{"field":"group","type":"nominal","scale":{"domain":["Controls","PD"],"range":["white","black"]},"legend":null}}},{"transform":[{"filter":"datum.kind=='sig'"}],"mark":"rule","encoding":{"x":{"datum":"Controls"},"x2":{"datum":"PD"}}},{"transform":[{"filter":"datum.kind=='sig'"}],"mark":{"type":"text","fontSize":10,"color":"#333","baseline":"bottom","dy":-3},"encoding":{"x":{"datum":"PD","bandPosition":0},"text":{"field":"stars"}}}]},
{"width":122,"height":81,"data":{"name":"d"},"transform":[{"filter":"datum.panel=='C5'"}],"encoding":{"x":{"field":"group","type":"nominal","scale":{"type":"band","domain":["Controls","PD"],"paddingInner":0,"paddingOuter":0},"axis":{"title":null}},"y":{"field":"value","type":"quantitative","scale":{"domain":[0,20],"nice":false},"axis":{"values":[0,5,10,15,20],"title":null}}},
"layer":[{"transform":[{"filter":"datum.kind=='pt'"}],"mark":{"type":"errorbar","extent":"stderr","ticks":{"size":22},"thickness":1.3,"color":"black"}},{"transform":[{"filter":"datum.kind=='pt'"}],"mark":{"type":"tick","size":40,"thickness":1.6},"encoding":{"y":{"aggregate":"mean","field":"value","type":"quantitative"}}},{"transform":[{"filter":"datum.kind=='pt'"}],"mark":"point","encoding":{"xOffset":{"field":"dx","type":"quantitative","scale":{"domain":[-12,12]}},"fill":{"field":"group","type":"nominal","scale":{"domain":["Controls","PD"],"range":["white","black"]},"legend":null}}},{"transform":[{"filter":"datum.kind=='sig'"}],"mark":"rule","encoding":{"x":{"datum":"Controls"},"x2":{"datum":"PD"}}},{"transform":[{"filter":"datum.kind=='sig'"}],"mark":{"type":"text","fontSize":10,"color":"#333","baseline":"bottom","dy":-3},"encoding":{"x":{"datum":"PD","bandPosition":0},"text":{"field":"stars"}}}]}
],"spacing":34,"bounds":"flush","resolve":{"scale":{"xOffset":"independent","fill":"independent"}}},
{"title":{"text":"(D)","anchor":"start","frame":"group","dx":-35.5,"dy":12,"offset":0},"hconcat":[
{"width":122,"height":85,"title":{"text":"HVA","fontStyle":"italic","anchor":"start","frame":"group","dx":-12.5,"offset":11},"data":{"name":"d"},"transform":[{"filter":"datum.panel=='D1'"}],"encoding":{"x":{"field":"group","type":"nominal","scale":{"type":"band","domain":["Controls","PD"],"paddingInner":0,"paddingOuter":0},"axis":{"title":null}},"y":{"field":"value","type":"quantitative","scale":{"domain":[0,80],"nice":false},"axis":{"values":[0,20,40,60,80],"title":"ng/mg protein"}}},
"layer":[{"transform":[{"filter":"datum.kind=='pt'"}],"mark":{"type":"errorbar","extent":"stderr","ticks":{"size":22},"thickness":1.3,"color":"black"}},{"transform":[{"filter":"datum.kind=='pt'"}],"mark":{"type":"tick","size":40,"thickness":1.6},"encoding":{"y":{"aggregate":"mean","field":"value","type":"quantitative"}}},{"transform":[{"filter":"datum.kind=='pt'"}],"mark":"point","encoding":{"xOffset":{"field":"dx","type":"quantitative","scale":{"domain":[-12,12]}},"fill":{"field":"group","type":"nominal","scale":{"domain":["Controls","PD"],"range":["white","black"]},"legend":null}}},{"transform":[{"filter":"datum.kind=='sig'"}],"mark":"rule","encoding":{"x":{"datum":"Controls"},"x2":{"datum":"PD"}}},{"transform":[{"filter":"datum.kind=='sig'"}],"mark":{"type":"text","fontSize":10,"color":"#333","baseline":"bottom","dy":-3},"encoding":{"x":{"datum":"PD","bandPosition":0},"text":{"field":"stars"}}}]},
{"width":122,"height":85,"data":{"name":"d"},"transform":[{"filter":"datum.panel=='D2'"}],"encoding":{"x":{"field":"group","type":"nominal","scale":{"type":"band","domain":["Controls","PD"],"paddingInner":0,"paddingOuter":0},"axis":{"title":null}},"y":{"field":"value","type":"quantitative","scale":{"domain":[0,150],"nice":false},"axis":{"values":[0,50,100,150],"title":null}}},
"layer":[{"transform":[{"filter":"datum.kind=='pt'"}],"mark":{"type":"errorbar","extent":"stderr","ticks":{"size":22},"thickness":1.3,"color":"black"}},{"transform":[{"filter":"datum.kind=='pt'"}],"mark":{"type":"tick","size":40,"thickness":1.6},"encoding":{"y":{"aggregate":"mean","field":"value","type":"quantitative"}}},{"transform":[{"filter":"datum.kind=='pt'"}],"mark":"point","encoding":{"xOffset":{"field":"dx","type":"quantitative","scale":{"domain":[-12,12]}},"fill":{"field":"group","type":"nominal","scale":{"domain":["Controls","PD"],"range":["white","black"]},"legend":null}}},{"transform":[{"filter":"datum.kind=='sig'"}],"mark":"rule","encoding":{"x":{"datum":"Controls"},"x2":{"datum":"PD"}}},{"transform":[{"filter":"datum.kind=='sig'"}],"mark":{"type":"text","fontSize":10,"color":"#333","baseline":"bottom","dy":-3},"encoding":{"x":{"datum":"PD","bandPosition":0},"text":{"field":"stars"}}}]},
{"width":122,"height":85,"data":{"name":"d"},"transform":[{"filter":"datum.panel=='D3'"}],"encoding":{"x":{"field":"group","type":"nominal","scale":{"type":"band","domain":["Controls","PD"],"paddingInner":0,"paddingOuter":0},"axis":{"title":null}},"y":{"field":"value","type":"quantitative","scale":{"domain":[0,150],"nice":false},"axis":{"values":[0,50,100,150],"title":null}}},
"layer":[{"transform":[{"filter":"datum.kind=='pt'"}],"mark":{"type":"errorbar","extent":"stderr","ticks":{"size":22},"thickness":1.3,"color":"black"}},{"transform":[{"filter":"datum.kind=='pt'"}],"mark":{"type":"tick","size":40,"thickness":1.6},"encoding":{"y":{"aggregate":"mean","field":"value","type":"quantitative"}}},{"transform":[{"filter":"datum.kind=='pt'"}],"mark":"point","encoding":{"xOffset":{"field":"dx","type":"quantitative","scale":{"domain":[-12,12]}},"fill":{"field":"group","type":"nominal","scale":{"domain":["Controls","PD"],"range":["white","black"]},"legend":null}}},{"transform":[{"filter":"datum.kind=='sig'"}],"mark":"rule","encoding":{"x":{"datum":"Controls"},"x2":{"datum":"PD"}}},{"transform":[{"filter":"datum.kind=='sig'"}],"mark":{"type":"text","fontSize":10,"color":"#333","baseline":"bottom","dy":-3},"encoding":{"x":{"datum":"PD","bandPosition":0},"text":{"field":"stars"}}}]},
{"width":122,"height":85,"data":{"name":"d"},"transform":[{"filter":"datum.panel=='D4'"}],"encoding":{"x":{"field":"group","type":"nominal","scale":{"type":"band","domain":["Controls","PD"],"paddingInner":0,"paddingOuter":0},"axis":{"title":null}},"y":{"field":"value","type":"quantitative","scale":{"domain":[0,100],"nice":false},"axis":{"values":[0,20,40,60,80,100],"title":null}}},
"layer":[{"transform":[{"filter":"datum.kind=='pt'"}],"mark":{"type":"errorbar","extent":"stderr","ticks":{"size":22},"thickness":1.3,"color":"black"}},{"transform":[{"filter":"datum.kind=='pt'"}],"mark":{"type":"tick","size":40,"thickness":1.6},"encoding":{"y":{"aggregate":"mean","field":"value","type":"quantitative"}}},{"transform":[{"filter":"datum.kind=='pt'"}],"mark":"point","encoding":{"xOffset":{"field":"dx","type":"quantitative","scale":{"domain":[-12,12]}},"fill":{"field":"group","type":"nominal","scale":{"domain":["Controls","PD"],"range":["white","black"]},"legend":null}}},{"transform":[{"filter":"datum.kind=='sig'"}],"mark":"rule","encoding":{"x":{"datum":"Controls"},"x2":{"datum":"PD"}}},{"transform":[{"filter":"datum.kind=='sig'"}],"mark":{"type":"text","fontSize":10,"color":"#333","baseline":"bottom","dy":-3},"encoding":{"x":{"datum":"PD","bandPosition":0},"text":{"field":"stars"}}}]},
{"width":122,"height":85,"data":{"name":"d"},"transform":[{"filter":"datum.panel=='D5'"}],"encoding":{"x":{"field":"group","type":"nominal","scale":{"type":"band","domain":["Controls","PD"],"paddingInner":0,"paddingOuter":0},"axis":{"title":null}},"y":{"field":"value","type":"quantitative","scale":{"domain":[0,150],"nice":false},"axis":{"values":[0,50,100,150],"title":null}}},
"layer":[{"transform":[{"filter":"datum.kind=='pt'"}],"mark":{"type":"errorbar","extent":"stderr","ticks":{"size":22},"thickness":1.3,"color":"black"}},{"transform":[{"filter":"datum.kind=='pt'"}],"mark":{"type":"tick","size":40,"thickness":1.6},"encoding":{"y":{"aggregate":"mean","field":"value","type":"quantitative"}}},{"transform":[{"filter":"datum.kind=='pt'"}],"mark":"point","encoding":{"xOffset":{"field":"dx","type":"quantitative","scale":{"domain":[-12,12]}},"fill":{"field":"group","type":"nominal","scale":{"domain":["Controls","PD"],"range":["white","black"]},"legend":null}}},{"transform":[{"filter":"datum.kind=='sig'"}],"mark":"rule","encoding":{"x":{"datum":"Controls"},"x2":{"datum":"PD"}}},{"transform":[{"filter":"datum.kind=='sig'"}],"mark":{"type":"text","fontSize":10,"color":"#333","baseline":"bottom","dy":-3},"encoding":{"x":{"datum":"PD","bandPosition":0},"text":{"field":"stars"}}}]}
],"spacing":34,"bounds":"flush","resolve":{"scale":{"xOffset":"independent","fill":"independent"}}}
],"spacing":160,"bounds":"flush","resolve":{"scale":{"xOffset":"independent","fill":"independent"}}}
]
}
